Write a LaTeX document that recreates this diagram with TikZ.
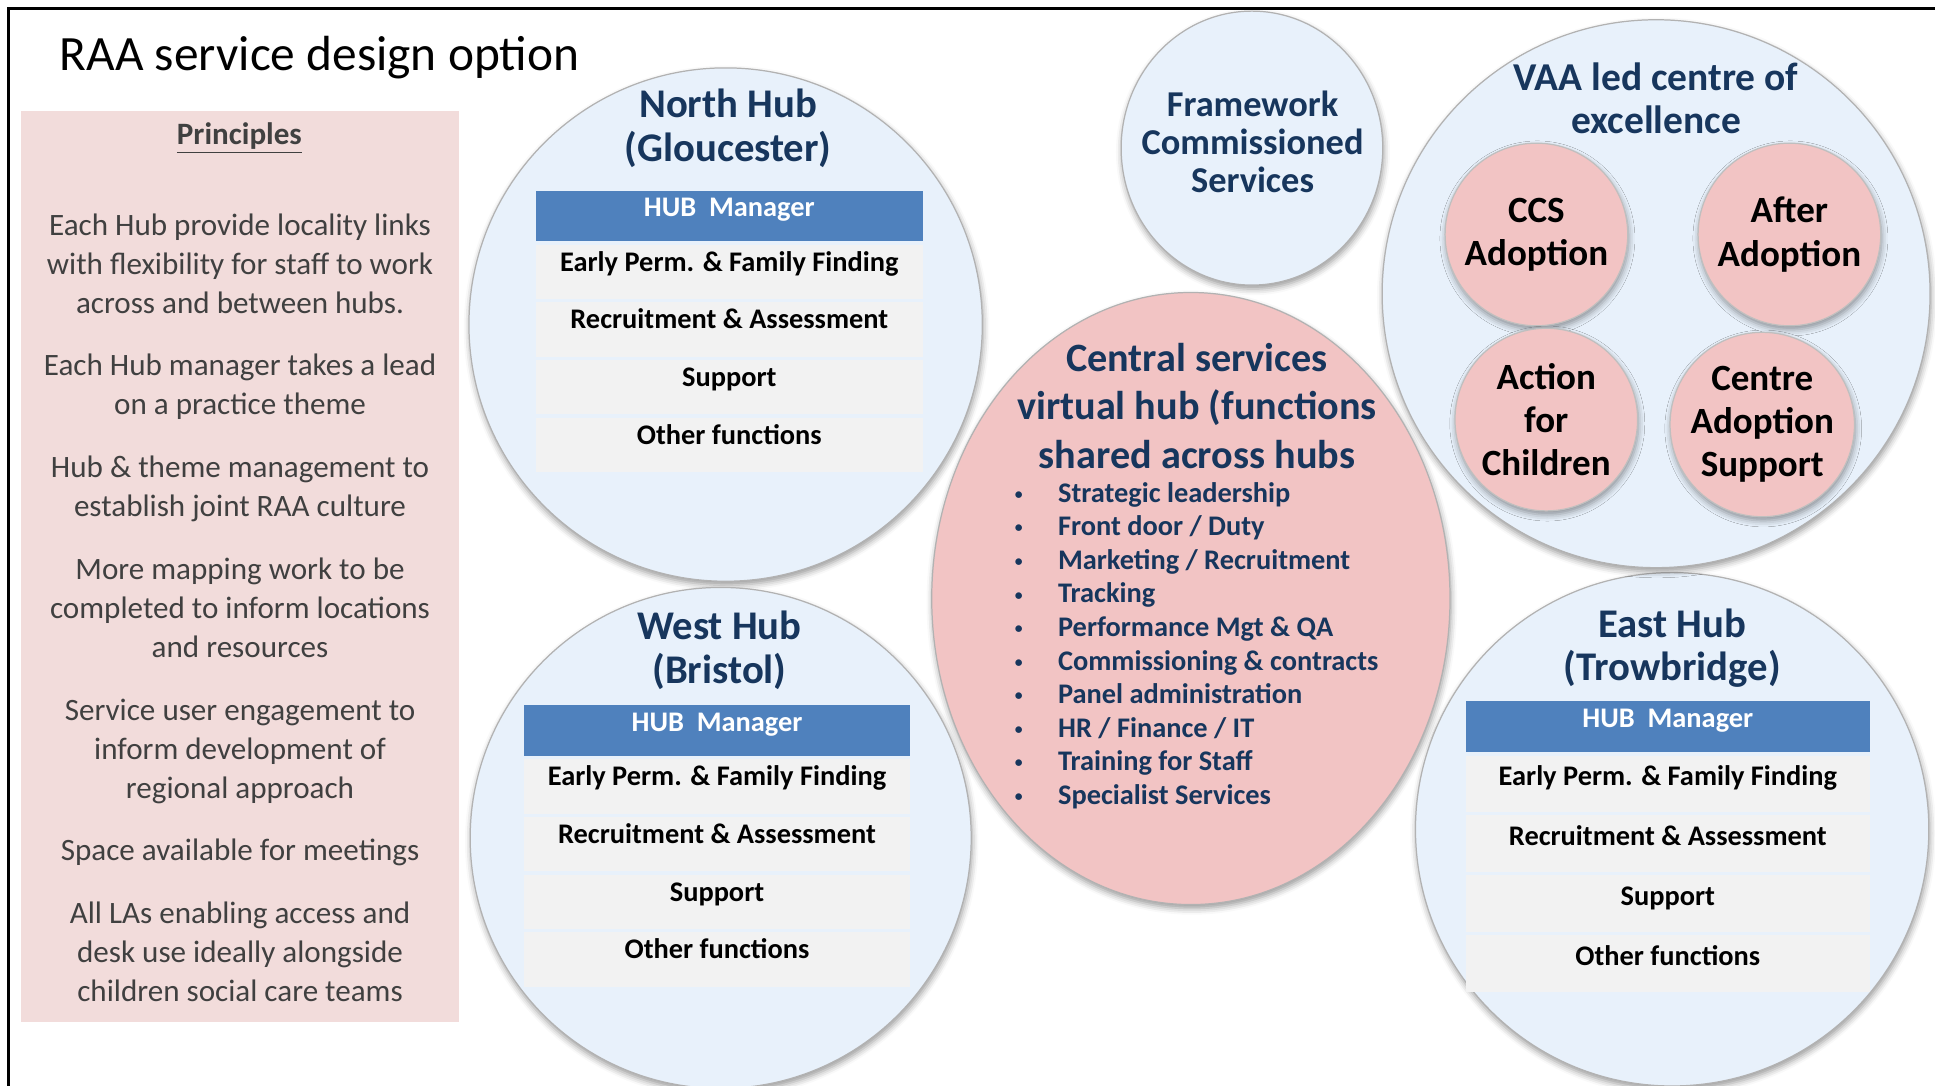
\documentclass[tikz,border=0pt]{standalone}
\usepackage{fontspec}
\setmainfont{Carlito}
\usepackage{xcolor}
\usepackage{graphicx}
\definecolor{hubBlue}{HTML}{E8F1FB}
\definecolor{hubPink}{HTML}{F2C4C4}
\definecolor{notePink}{HTML}{F2DCDB}
\definecolor{headBlue}{HTML}{4F81BD}
\definecolor{rowGray}{HTML}{F2F2F2}
\definecolor{navy}{HTML}{17365D}
\definecolor{noteText}{HTML}{404040}
\usetikzlibrary{positioning, shapes.geometric, shadows.blur}
\tikzset{
  bubble/.style={circle, draw=black!30, line width=0.5pt, fill=hubBlue, inner sep=0pt,
    blur shadow={shadow xshift=0.4pt, shadow yshift=-1.6pt, shadow blur radius=2.5pt, shadow opacity=40}},
  petal/.style={bubble, fill=hubPink, draw=black!25, minimum size=74pt, align=center,
    font=\bfseries\fontsize{15}{17.5}\selectfont},
  hubtitle/.style={align=center, text=navy, font=\bfseries\fontsize{16.5}{17.5}\selectfont},
  hubhead/.style={fill=headBlue, text=white, minimum width=#1, inner sep=0pt,
    text height=10.5pt, text depth=10pt, font=\bfseries\fontsize{11.5}{13}\selectfont},
  hubrow/.style={fill=rowGray, minimum width=#1, inner sep=0pt,
    text height=10.7pt, text depth=11.3pt, font=\bfseries\fontsize{11.5}{13}\selectfont},
}
\newcommand{\smallbullet}{\makebox[17.5pt][l]{\raisebox{1.2pt}{\scalebox{0.55}{\textbullet}}}}

\begin{document}
\begin{tikzpicture}[x=0.5pt, y=-0.5pt, node distance=1pt]
\useasboundingbox (0,0) rectangle (1568,880);
\clip (0,0) rectangle (1568,880);
\draw[line width=1pt] (7,7) rectangle (1620,940);

\node[anchor=west, inner sep=0pt, font=\fontsize{20}{24}\selectfont] (title) at (48,47) {RAA service design option};

% principles panel
\node[fill=notePink, minimum width=177.5pt, minimum height=369pt, inner sep=0pt] (panel) at (194.5,459) {};
\node[text=noteText, font=\bfseries\fontsize{12.6}{15.75}\selectfont] (princ) at (194,112) {\underline{Principles}};
\node[align=center, text=noteText, font=\fontsize{12.6}{15.75}\selectfont] (rules) at (194.5,492.5) {Each Hub provide locality links\\with flexibility for staff to work\\across and between hubs.\\[9.75pt]
Each Hub manager takes a lead\\on a practice theme\\[9.75pt]
Hub \& theme management to\\establish joint RAA culture\\[9.75pt]
More mapping work to be\\completed to inform locations\\and resources\\[9.75pt]
Service user engagement to\\inform development of\\regional approach\\[9.75pt]
Space available for meetings\\[9.75pt]
All LAs enabling access and\\desk use ideally alongside\\children social care teams};

% hub bubbles
\node[bubble, minimum size=208pt] (north) at (588,263) {};
\node[bubble, minimum size=203pt] (west) at (584,679) {};
\node[bubble, minimum size=208pt] (east) at (1355,672) {};
\node[bubble, minimum size=222pt] (vaa) at (1342,238) {};
\node[bubble, ellipse, minimum width=106pt, minimum height=111pt] (framework) at (1014.5,120) {};
\node[align=center, text=navy, font=\bfseries\fontsize{14.75}{15.5}\selectfont] (frameworkname) at (1015,115) {Framework\\Commissioned\\Services};
\node[bubble, ellipse, fill=hubPink, minimum width=210pt, minimum height=248pt] (central) at (965,485) {};

% north hub
\node[hubtitle] (northname) at (590,104) {North Hub\\(Gloucester)};
\node[hubhead=157pt, anchor=north] (nhead) at (591,154) {HUB\ \ Manager};
\node[hubrow=157pt, below=of nhead] (nrow1) {Early Perm. \& Family Finding};
\node[hubrow=157pt, below=of nrow1] (nrow2) {Recruitment \& Assessment};
\node[hubrow=157pt, below=of nrow2] (nrow3) {Support};
\node[hubrow=157pt, below=of nrow3] (nrow4) {Other functions};

% west hub
\node[hubtitle] (westname) at (583,527) {West Hub\\(Bristol)};
\node[hubhead=156pt, anchor=north] (whead) at (581,571) {HUB\ \ Manager};
\node[hubrow=156pt, below=of whead] (wrow1) {Early Perm. \& Family Finding};
\node[hubrow=156pt, below=of wrow1] (wrow2) {Recruitment \& Assessment};
\node[hubrow=156pt, below=of wrow2] (wrow3) {Support};
\node[hubrow=156pt, below=of wrow3] (wrow4) {Other functions};

% east hub
\node[hubtitle] (eastname) at (1355,525.5) {East Hub\\(Trowbridge)};
\node[hubhead=163.5pt, anchor=north] (ehead) at (1351.5,568) {HUB\ \ Manager};
\node[hubrow=163.5pt, below=of ehead, text height=12pt, text depth=10.9pt] (erow1) {Early Perm. \& Family Finding};
\node[hubrow=163.5pt, below=of erow1, text height=12pt, text depth=10.9pt] (erow2) {Recruitment \& Assessment};
\node[hubrow=163.5pt, below=of erow2, text height=12pt, text depth=10.9pt] (erow3) {Support};
\node[hubrow=163.5pt, below=of erow3, text height=12pt, text depth=10.9pt] (erow4) {Other functions};

% central virtual hub
\node[align=center, text=navy, font=\bfseries\fontsize{16.3}{19.5}\selectfont] (centralname) at (970,329) {Central services\\virtual hub (functions\\shared across hubs};
\foreach \job [count=\i] in {Strategic leadership, Front door / Duty, Marketing / Recruitment, Tracking,
  Performance Mgt \& QA, Commissioning \& contracts, Panel administration, HR / Finance / IT,
  Training for Staff, Specialist Services}
  \node[anchor=base west, inner sep=0pt, text=navy, font=\bfseries\fontsize{11.5}{13.6}\selectfont] (job\i) at (822,{407+27.2*(\i-1)}) {\smallbullet\job};

% voluntary agencies
\node[hubtitle, font=\bfseries\fontsize{16}{17.5}\selectfont] (vaaname) at (1342,79.5) {VAA led centre of\\excellence};
\node[petal] (ccs) at (1245,190) {CCS\\Adoption};
\node[petal] (after) at (1450,190) {After\\Adoption};
\node[petal] (afc) at (1253,340) {Action\\for\\Children};
\node[petal] (cas) at (1428,344) {Centre\\Adoption\\Support};
\end{tikzpicture}
\end{document}
